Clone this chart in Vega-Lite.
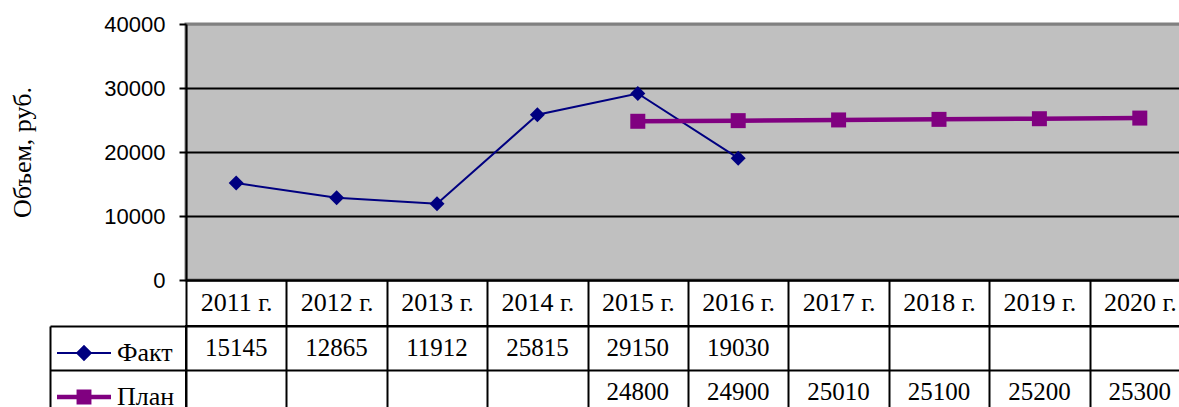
{
  "$schema": "https://vega.github.io/schema/vega-lite/v6.json",
  "background": "white",
  "padding": {"left": 8, "top": 11, "right": 0, "bottom": 0},
  "bounds": "flush",
  "spacing": 46,
  "resolve": {"legend": {"color": "independent"}},
  "datasets": {
    "main": [
      {"year": "2011 г.", "series": "Факт", "value": 15145},
      {"year": "2012 г.", "series": "Факт", "value": 12865},
      {"year": "2013 г.", "series": "Факт", "value": 11912},
      {"year": "2014 г.", "series": "Факт", "value": 25815},
      {"year": "2015 г.", "series": "Факт", "value": 29150},
      {"year": "2016 г.", "series": "Факт", "value": 19030},
      {"year": "2015 г.", "series": "План", "value": 24800},
      {"year": "2016 г.", "series": "План", "value": 24900},
      {"year": "2017 г.", "series": "План", "value": 25010},
      {"year": "2018 г.", "series": "План", "value": 25100},
      {"year": "2019 г.", "series": "План", "value": 25200},
      {"year": "2020 г.", "series": "План", "value": 25300}
    ]
  },
  "vconcat": [
    {
      "width": 1004,
      "height": 256,
      "data": {"name": "main"},
      "view": {"fill": "#C0C0C0", "stroke": "#808080", "strokeWidth": 3},
      "encoding": {
        "x": {
          "field": "year", "type": "nominal",
          "scale": {"domain": ["2011 г.", "2012 г.", "2013 г.", "2014 г.", "2015 г.", "2016 г.", "2017 г.", "2018 г.", "2019 г.", "2020 г."], "paddingInner": 0, "paddingOuter": 0},
          "axis": {"orient": "bottom", "title": null, "labelFont": "Liberation Serif", "labelFontSize": 26, "labelColor": "black", "labelAngle": 0, "labelPadding": -37, "tickBand": "extent", "tickSize": 46, "tickColor": "black", "tickWidth": 2, "domainColor": "black", "domainWidth": 2, "grid": false}
        },
        "y": {
          "field": "value", "type": "quantitative",
          "scale": {"domain": [0, 40000], "nice": false},
          "axis": {"title": "Объем, руб.", "titleFont": "Liberation Serif", "titleFontSize": 26, "titleFontWeight": "normal", "titleColor": "black", "titlePadding": 68, "labelFont": "Liberation Sans", "labelFontSize": 22, "labelColor": "black", "labelPadding": 14, "tickSize": 7, "tickColor": "black", "tickWidth": 2, "domainColor": "black", "domainWidth": 2, "values": [0, 10000, 20000, 30000, 40000], "format": "d", "grid": true, "gridColor": {"condition": {"test": "datum.value === 40000", "value": "#808080"}, "value": "black"}, "gridWidth": 2, "gridOpacity": 1}
        },
        "color": {
          "field": "series", "type": "nominal",
          "scale": {"domain": ["Факт", "План"], "range": ["#000080", "#800080"]},
          "legend": {
            "orient": "none", "legendX": -115, "legendY": 316, "title": null, "direction": "vertical",
            "symbolSize": 256, "labelFont": "Liberation Serif", "labelFontSize": 26, "labelColor": "black", "labelOffset": 20, "rowPadding": 16,
            "encode": {
              "symbols": {
                "update": {
                  "shape": {"signal": "datum.value === 'Факт' ? 'M-3.375,0H3.375M0,-0.85L0.85,0L0,0.85L-0.85,0Z' : 'M-3.375,0H3.375M-0.65,-0.65H0.65V0.65H-0.65Z'"},
                  "strokeWidth": {"signal": "datum.value === 'Факт' ? 2 : 4.5"},
                  "fill": {"signal": "datum.value === 'Факт' ? '#000080' : '#800080'"},
                  "stroke": {"signal": "datum.value === 'Факт' ? '#000080' : '#800080'"},
                  "opacity": {"value": 1},
                  "fillOpacity": {"value": 1},
                  "strokeOpacity": {"value": 1}
                }
              }
            }
          }
        }
      },
      "layer": [
        {
          "mark": {"type": "line"},
          "encoding": {
            "strokeWidth": {"field": "series", "type": "nominal", "scale": {"domain": ["Факт", "План"], "range": [2, 4.5]}, "legend": null}
          }
        },
        {
          "mark": {"type": "point", "filled": true, "opacity": 1, "size": 225},
          "encoding": {
            "shape": {"field": "series", "type": "nominal", "scale": {"domain": ["Факт", "План"], "range": ["diamond", "square"]}, "legend": null}
          }
        }
      ]
    },
    {
      "width": 1004,
      "height": 88,
      "data": {"name": "main"},
      "view": {"stroke": "black", "strokeWidth": 2, "fill": "white"},
      "mark": {"type": "text", "font": "Liberation Serif", "fontSize": 25, "color": "black", "baseline": "middle"},
      "encoding": {
        "x": {
          "field": "year", "type": "nominal",
          "scale": {"domain": ["2011 г.", "2012 г.", "2013 г.", "2014 г.", "2015 г.", "2016 г.", "2017 г.", "2018 г.", "2019 г.", "2020 г."], "paddingInner": 0, "paddingOuter": 0},
          "axis": {"orient": "top", "title": null, "labels": false, "ticks": false, "domain": false, "grid": true, "tickBand": "extent", "gridColor": "black", "gridWidth": 2, "gridOpacity": 1}
        },
        "y": {
          "field": "series", "type": "nominal",
          "scale": {"domain": ["Факт", "План"], "paddingInner": 0, "paddingOuter": 0},
          "axis": {"title": null, "labels": false, "grid": true, "tickBand": "extent", "gridColor": "black", "gridWidth": 2, "gridOpacity": 1, "offset": 136, "tickSize": -136, "tickColor": "black", "tickWidth": 2, "domainColor": "black", "domainWidth": 2}
        },
        "text": {"field": "value", "type": "quantitative", "format": "d"}
      }
    }
  ]
}
